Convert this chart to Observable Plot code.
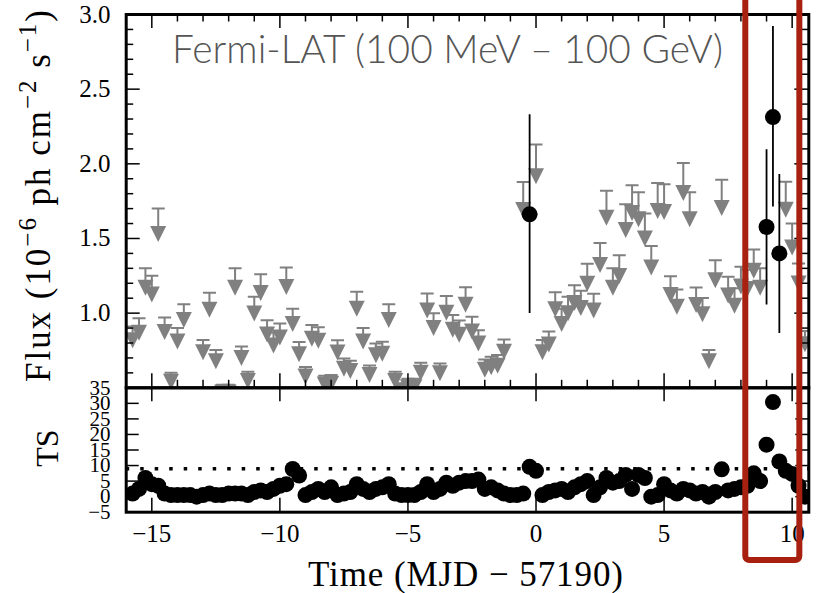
<!DOCTYPE html>
<html><head><meta charset="utf-8">
<script src="https://cdn.jsdelivr.net/npm/d3@7"></script>
<script src="https://cdn.jsdelivr.net/npm/@observablehq/plot@0.6"></script>
<style>
html,body{margin:0;padding:0;background:#fff;}
#chart{position:relative;width:817px;height:593px;overflow:hidden;background:#fff;}
#chart > svg{position:absolute;left:0;top:0;}
</style></head><body><div id="chart"></div>
<script>
// Bin centres (MJD - 57190)
const times = [
  -15.75,-15.5,-15.25,-15,-14.75,-14.5,-14.25,-14,
  -13.75,-13.5,-13.25,-13,-12.75,-12.5,-12.25,-12,
  -11.75,-11.5,-11.25,-11,-10.75,-10.5,-10.25,-10,
  -9.75,-9.5,-9.25,-9,-8.75,-8.5,-8.25,-8,
  -7.75,-7.5,-7.25,-7,-6.75,-6.5,-6.25,-6,
  -5.75,-5.5,-5.25,-5,-4.75,-4.5,-4.25,-4,
  -3.75,-3.5,-3.25,-3,-2.75,-2.5,-2.25,-2,
  -1.75,-1.5,-1.25,-1,-0.75,-0.5,-0.25,0,
  0.25,0.5,0.75,1,1.25,1.5,1.75,2,
  2.25,2.5,2.75,3,3.25,3.5,3.75,4,
  4.25,4.5,4.75,5,5.25,5.5,5.75,6,
  6.25,6.5,6.75,7,7.25,7.5,7.75,8,
  8.25,8.5,8.75,9,9.25,9.5,9.75,10,
  10.25,10.5
];
// Test statistic per bin
const tsValues = [
  1,2.5,6,4,3.5,1,0.5,0.5,
  0.5,0.5,0,0.5,1,0.5,0.5,1,
  1,1,0.5,1.5,2,1.5,2.5,3.5,
  4,8.9,6.8,0.5,1.5,2.5,1.5,3,
  0.5,1,1.5,4,2.5,1.5,2.5,3,
  4,1,0.5,0.5,0.5,1.5,4,1.5,
  2.5,4.5,3.5,4.5,5,5,5.5,2.5,
  3,2,1,0.5,0.5,1,9.6,8.3,
  0.5,1.5,2,2.5,1.5,3,4,5,
  0.5,3,6,4.5,5,7,2.5,7,
  6,0,0.5,4,2,1,2.5,2,
  1,1.5,0,1.5,8.8,2,2.5,3,
  3.5,7.5,5,16.7,30.4,11.3,8.3,7.3,
  3.5,0
];
// Flux upper limits (1e-6 ph cm^-2 s^-1); null where the source is detected
const upperLimits = [
  0.91,0.965,1.30,1.25,1.70,0.97,0.60,0.90,
  1.06,0.45,0.45,0.82,1.136,0.753,0.52,0.52,
  1.30,0.777,0.607,1.109,1.261,0.953,0.87,0.93,
  1.306,1.03,0.806,0.64,0.92,0.905,0.58,0.585,
  0.819,0.697,0.681,1.143,0.90,0.65,0.797,0.808,
  1.06,0.607,0.53,0.56,0.56,0.668,1.131,1.0,
  0.663,1.114,0.987,0.95,1.174,0.975,0.885,0.69,
  0.708,0.72,0.824,0.45,0.45,1.878,null,2.13,
  0.82,0.877,1.14,1.03,1.11,1.187,1.15,1.33,
  1.13,1.47,1.82,1.30,1.388,1.729,1.856,1.81,
  1.667,1.45,1.872,1.863,1.247,1.158,2.005,1.81,
  1.172,1.102,0.753,1.355,1.894,1.243,1.167,1.31,
  1.29,1.426,1.30,null,null,null,1.88,1.60,
  1.332,0.88
];
// Detections
const detTimes = [-0.25, 9.0, 9.25, 9.5];
const detFlux  = [1.662, 1.577, 2.313, 1.40];
const detLow   = [0.998, 1.054, 1.711, 0.864];
const detHigh  = [2.329, 2.095, 2.92, 1.928];

const fluxTicks = [1.0, 1.5, 2.0, 2.5, 3.0];
const fluxMinorTicks = [0.6,0.7,0.8,0.9,1.1,1.2,1.3,1.4,1.6,1.7,1.8,1.9,2.1,2.2,2.3,2.4,2.6,2.7,2.8,2.9];
const tsTicks = [-5, 0, 5, 10, 15, 20, 25, 30, 35];
const timeTicks = [-15, -10, -5, 0, 5, 10];
const timeMinorTicks = [-14,-13,-12,-11,-9,-8,-7,-6,-4,-3,-2,-1,1,2,3,4,6,7,8,9];
const tsThreshold = [9];
const highlightRange = [8.19, 10.30];
const titleText = "Fermi-LAT (100 MeV \u2013 100 GeV)";
const xLabel = "Time (MJD \u2212 57190)";

// ---- layout ----
const W = 817, H = 593;
const mL = 125.7, mR = 8.7;
const topT = 14, split = 387.3, botB = 511.7;
const xDomain = [-16, 10.65];
const serif = "'Liberation Serif','Times New Roman',serif";
const gray = "#808080";
const topH = split - topT, botH = botB - split, frameW = W - mL - mR;
const MAJ = 14, MIN = 7.5;

const ulData = times.map((t, i) => ({t, ul: upperLimits[i]})).filter(d => d.ul != null);
const tsData = times.map((t, i) => ({t, ts: tsValues[i]}));
const detData = detTimes.map((t, i) => ({t, f: detFlux[i], lo: detLow[i], hi: detHigh[i]}));

const triDown = {draw(ctx, size) {const r = Math.sqrt(size / Math.PI); ctx.moveTo(-r, -r); ctx.lineTo(r, -r); ctx.lineTo(0, r); ctx.closePath();}};
const hbar = {draw(ctx, size) {const r = Math.sqrt(size / Math.PI); ctx.moveTo(-r, 0); ctx.lineTo(r, 0);}};

const baseStyle = {background: "transparent", fontFamily: serif, fontSize: "25px", overflow: "visible", color: "black"};

const topPlot = Plot.plot({
  width: W, height: H,
  marginLeft: mL, marginRight: mR, marginTop: topT, marginBottom: H - split,
  x: {domain: xDomain, axis: null},
  y: {domain: [0.5, 3.0]},
  style: baseStyle,
  marks: [
    Plot.ruleX(ulData, {x: "t", y1: "ul", y2: d => d.ul * 0.9, stroke: gray, strokeWidth: 2, clip: true}),
    Plot.dot(ulData, {x: "t", y: "ul", symbol: hbar, r: 6.5, stroke: gray, strokeWidth: 2, clip: true}),
    Plot.dot(ulData, {x: "t", y: d => d.ul * 0.9, symbol: triDown, r: 8, fill: gray, clip: true}),
    Plot.ruleX(detData, {x: "t", y1: "lo", y2: "hi", stroke: "black", strokeWidth: 1.8, clip: true}),
    Plot.dot(detData, {x: "t", y: "f", r: 8, fill: "black", clip: true}),
    // inward ticks
    Plot.tickX(timeTicks, {x: d => d, insetTop: topH - MAJ, stroke: "black", strokeWidth: 1.5}),
    Plot.tickX(timeMinorTicks, {x: d => d, insetTop: topH - MIN, stroke: "black", strokeWidth: 1.5}),
    Plot.tickX(timeTicks, {x: d => d, insetBottom: topH - MAJ, stroke: "black", strokeWidth: 1.5}),
    Plot.tickX(timeMinorTicks, {x: d => d, insetBottom: topH - MIN, stroke: "black", strokeWidth: 1.5}),
    Plot.tickY(fluxTicks, {y: d => d, insetRight: frameW - MAJ, stroke: "black", strokeWidth: 1.5}),
    Plot.tickY(fluxMinorTicks, {y: d => d, insetRight: frameW - MIN, stroke: "black", strokeWidth: 1.5}),
    Plot.tickY(fluxTicks, {y: d => d, insetLeft: frameW - MAJ, stroke: "black", strokeWidth: 1.5}),
    Plot.tickY(fluxMinorTicks, {y: d => d, insetLeft: frameW - MIN, stroke: "black", strokeWidth: 1.5}),
    Plot.frame({stroke: "black", strokeWidth: 3}),
    Plot.axisY(fluxTicks, {anchor: "left", tickSize: 0, tickPadding: 15.7, tickFormat: d => d.toFixed(1), label: null})
  ]
});

const botPlot = Plot.plot({
  width: W, height: H,
  marginLeft: mL, marginRight: mR, marginTop: split, marginBottom: H - botB,
  x: {domain: xDomain},
  y: {domain: [-5, 35]},
  style: baseStyle,
  marks: [
    Plot.ruleY(tsThreshold, {y: d => d, stroke: "black", strokeWidth: 3.5, strokeDasharray: "3.5,11"}),
    Plot.dot(tsData, {x: "t", y: "ts", r: 8, fill: "black", clip: true}),
    Plot.tickX(timeTicks, {x: d => d, insetTop: botH - MAJ, stroke: "black", strokeWidth: 1.5}),
    Plot.tickX(timeTicks, {x: d => d, insetBottom: botH - MAJ, stroke: "black", strokeWidth: 1.5}),
    Plot.tickY(tsTicks, {y: d => d, insetRight: frameW - 13, stroke: "black", strokeWidth: 1.5}),
    Plot.tickY(tsTicks, {y: d => d, insetLeft: frameW - 13, stroke: "black", strokeWidth: 1.5}),
    Plot.frame({stroke: "black", strokeWidth: 3}),
    Plot.axisX(timeTicks, {anchor: "bottom", tickSize: 0, tickPadding: 12.5, label: null}),
    Plot.axisY(tsTicks, {anchor: "left", tickSize: 0, tickPadding: 15.7, fontSize: 21, label: null})
  ]
});

const chart = document.getElementById("chart");
chart.appendChild(topPlot);
chart.appendChild(botPlot);

// ---- overlay: labels, title, highlight box ----
const xs = topPlot.scale("x");
const ov = d3.create("svg").attr("width", W).attr("height", H).style("overflow", "visible");

ov.append("text")
  .attr("x", 172).attr("y", 62.7)
  .attr("fill", "#555").attr("font-family", "Lato, 'Open Sans', sans-serif").attr("font-weight", 300)
  .attr("font-size", 40).attr("textLength", 551).attr("lengthAdjust", "spacingAndGlyphs")
  .text(titleText);

ov.append("text")
  .attr("x", 465.5).attr("y", 586).attr("text-anchor", "middle")
  .attr("font-family", serif).attr("font-size", 35)
  .attr("textLength", 315).attr("lengthAdjust", "spacing")
  .text(xLabel);

ov.append("text")
  .attr("transform", "translate(58.3,448) rotate(-90)").attr("text-anchor", "middle")
  .attr("font-family", serif).attr("font-size", 32).text("TS");

const fl = ov.append("text")
  .attr("transform", "translate(50,196) rotate(-90)").attr("text-anchor", "middle")
  .attr("font-family", serif).attr("font-size", 35)
  .attr("textLength", 372).attr("lengthAdjust", "spacing");
const parts = [["Flux (10", 0, 35], ["\u22126", -14, 25], [" ph cm", 14, 35], ["\u22122", -14, 25], [" s", 14, 35], ["\u22121", -14, 25], [")", 14, 35]];
for (const [s, dy, fs] of parts) fl.append("tspan").attr("dy", dy).attr("font-size", fs).text(s);

const x1 = xs.apply(highlightRange[0]), x2 = xs.apply(highlightRange[1]);
ov.append("rect")
  .attr("x", x1).attr("y", -10).attr("width", x2 - x1).attr("height", 570)
  .attr("rx", 4).attr("fill", "none").attr("stroke", "#a8200f").attr("stroke-width", 6);

chart.appendChild(ov.node());
</script></body></html>
